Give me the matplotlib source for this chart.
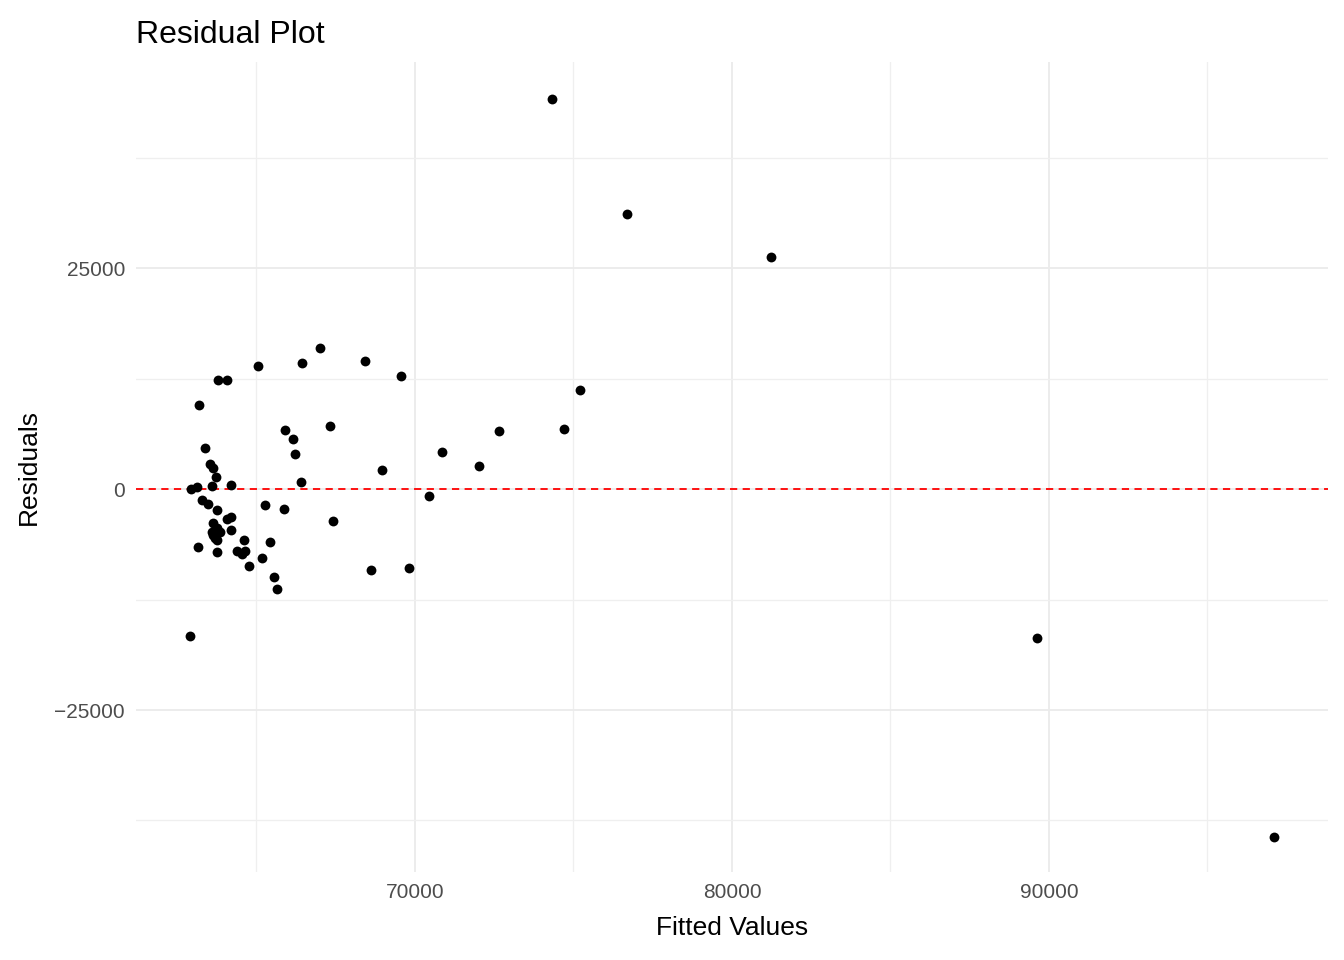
import matplotlib.pyplot as plt
import numpy as np

plt.rcParams['font.family'] = ['Liberation Sans', 'DejaVu Sans']

fitted = [65040, 66430, 63780, 64070, 63190, 65890, 67320, 66140, 66200, 63370,
          63530, 63640, 63720, 63610, 64190, 66390, 62920, 63110, 63290, 63460,
          63740, 65260, 65860, 64190, 64080, 67420, 63640, 63740, 63590, 63850,
          63690, 63740, 63620, 64190, 64600, 65420, 63140, 63740, 64380, 64540,
          64640, 64750, 65160, 65540, 65660, 62900, 67000, 68420, 69560, 68610,
          69810, 68960, 70440, 70850, 72020, 72650, 74700, 75210, 74320, 76690,
          81230, 89620, 97100]
residuals = [13950, 14290, 12330, 12330, 9540, 6710, 7160, 5660, 3990, 4640,
             2790, 2340, 1320, 340, 420, 830, 30, 190, -1240, -1700,
             -2340, -1770, -2230, -3130, -3430, -3580, -3880, -4450, -4830, -4830,
             -5580, -5770, -5200, -4640, -5770, -5960, -6520, -7090, -6980, -7350,
             -6980, -8670, -7770, -9920, -11280, -16630, 15950, 14480, 12780, -9160,
             -8940, 2150, -790, 4190, 2600, 6560, 6790, 11200, 44120, 31110,
             26240, -16860, -39370]

fig = plt.figure(figsize=(13.44, 9.6), dpi=100)
ax = fig.add_axes([0.1012, 0.0917, 0.8868, 0.8433])
ax.scatter(fitted, residuals, s=50, color='black', zorder=3, linewidths=0)
ax.axhline(0, color='red', linestyle=(0, (4, 3)), linewidth=1.3, zorder=2)

ax.set_xlim(61200, 98800)
ax.set_ylim(-43330, 48300)
ax.set_xticks([70000, 80000, 90000])
ax.set_xticks([65000, 75000, 85000, 95000], minor=True)
ax.set_yticks([-25000, 0, 25000])
ax.set_yticks([-37500, -12500, 12500, 37500], minor=True)
ax.grid(True, which='major', color='#ebebeb', linewidth=1.3)
ax.grid(True, which='minor', color='#efefef', linewidth=0.9)
ax.set_axisbelow(True)
for s in ax.spines.values():
    s.set_visible(False)
ax.tick_params(which='both', length=0, labelsize=15, labelcolor='#4d4d4d', pad=8)
ax.set_xlabel('Fitted Values', fontsize=19, labelpad=10)
ax.set_ylabel('Residuals', fontsize=19, labelpad=10)
ax.set_title('Residual Plot', fontsize=23, loc='left', pad=14)
fig.savefig('out.png')
